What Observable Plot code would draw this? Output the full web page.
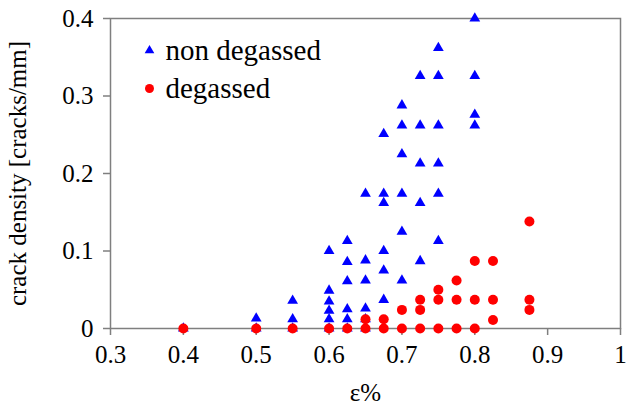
<!DOCTYPE html>
<html>
<head>
<meta charset="utf-8">
<script src="https://cdn.jsdelivr.net/npm/d3@7"></script>
<script src="https://cdn.jsdelivr.net/npm/@observablehq/plot@0.6"></script>
<style>
  html, body { margin: 0; padding: 0; background: #fff; }
  #chart { width: 630px; height: 408px; }
</style>
</head>
<body>
<div id="chart"></div>
<script>
// Series names
const seriesNames = ["non degassed", "degassed"];

// non degassed (blue triangles): strain ε% and crack density
const nonDegX = [
  0.4,
  0.5, 0.5,
  0.55, 0.55, 0.55,
  0.6, 0.6, 0.6, 0.6, 0.6, 0.6,
  0.625, 0.625, 0.625, 0.625, 0.625, 0.625,
  0.65, 0.65, 0.65, 0.65, 0.65, 0.65,
  0.675, 0.675, 0.675, 0.675, 0.675, 0.675,
  0.7, 0.7, 0.7, 0.7, 0.7, 0.7,
  0.725, 0.725, 0.725, 0.725, 0.725,
  0.75, 0.75, 0.75, 0.75, 0.75, 0.75,
  0.8, 0.8, 0.8, 0.8
];
const nonDegY = [
  0,
  0, 0.013,
  0, 0.012, 0.036,
  0, 0.012, 0.023, 0.035, 0.049, 0.1,
  0, 0.012, 0.025, 0.061, 0.086, 0.113,
  0, 0.012, 0.026, 0.062, 0.088, 0.174,
  0.037, 0.075, 0.1, 0.162, 0.174, 0.251,
  0.062, 0.125, 0.174, 0.225, 0.262, 0.288,
  0.087, 0.162, 0.213, 0.262, 0.326,
  0.113, 0.174, 0.213, 0.262, 0.326, 0.362,
  0.262, 0.276, 0.326, 0.4
];

// degassed (red circles)
const degX = [
  0.4, 0.5, 0.55, 0.6, 0.625,
  0.65, 0.65,
  0.675, 0.675,
  0.7, 0.7,
  0.725, 0.725, 0.725,
  0.75, 0.75, 0.75,
  0.775, 0.775, 0.775,
  0.8, 0.8, 0.8,
  0.825, 0.825, 0.825,
  0.875, 0.875, 0.875
];
const degY = [
  0, 0, 0, 0, 0,
  0, 0.012,
  0, 0.012,
  0, 0.024,
  0, 0.024, 0.037,
  0, 0.037, 0.05,
  0, 0.037, 0.062,
  0, 0.037, 0.087,
  0.011, 0.037, 0.087,
  0.024, 0.037, 0.138
];

// Axis ticks and labels
const xTicks = [0.3, 0.4, 0.5, 0.6, 0.7, 0.8, 0.9, 1];
const yTicks = [0, 0.1, 0.2, 0.3, 0.4];
const xLabel = "ε%";
const yLabel = "crack density [cracks/mm]";

const nonDeg = nonDegX.map((x, i) => ({x, y: nonDegY[i]}));
const deg = degX.map((x, i) => ({x, y: degY[i]}));
const fmt = d => String(+d.toFixed(1));

const BLUE = "#0000ff", RED = "#ff0000", AXIS = "#7f7f7f";
const SERIF = "'Times New Roman', 'Liberation Serif', serif";

const chart = Plot.plot({
  width: 630,
  height: 408,
  marginLeft: 110,
  marginRight: 10,
  marginTop: 18,
  marginBottom: 80,
  style: {fontSize: "25px", color: "#000", background: "#fff", overflow: "visible"},
  x: {domain: [0.3, 1]},
  y: {domain: [0, 0.4]},
  marks: [
    Plot.frame({stroke: AXIS, strokeWidth: 1.5}),
    Plot.axisX({ticks: xTicks, tickFormat: fmt, tickSize: 7, tickPadding: 10, stroke: AXIS, strokeWidth: 1.5,
      label: xLabel, labelAnchor: "center", labelArrow: "none", labelOffset: 72, fontSize: 25, fontFamily: SERIF}),
    Plot.axisY({ticks: yTicks, tickFormat: fmt, tickSize: 7, tickPadding: 10, stroke: AXIS, strokeWidth: 1.5,
      label: yLabel, labelAnchor: "center", labelArrow: "none", labelOffset: 102, fontSize: 25, fontFamily: SERIF}),
    Plot.dot(nonDeg, {x: "x", y: "y", symbol: "triangle", r: 4, fill: BLUE, stroke: "none"}),
    Plot.dot(deg, {x: "x", y: "y", symbol: "circle", r: 5, fill: RED, stroke: "none"}),
    // legend inside the frame
    Plot.dot([seriesNames[0]], {frameAnchor: "top-left", dx: 39, dy: 32, symbol: "triangle", r: 3.6, fill: BLUE, stroke: "none"}),
    Plot.dot([seriesNames[1]], {frameAnchor: "top-left", dx: 39, dy: 70, symbol: "circle", r: 4.5, fill: RED, stroke: "none"}),
    Plot.text([seriesNames[0]], {frameAnchor: "top-left", text: d => d, dx: 55, dy: 32, textAnchor: "start", lineAnchor: "middle", fontSize: 29, fontFamily: SERIF, fill: "#000"}),
    Plot.text([seriesNames[1]], {frameAnchor: "top-left", text: d => d, dx: 55, dy: 70, textAnchor: "start", lineAnchor: "middle", fontSize: 29, fontFamily: SERIF, fill: "#000"})
  ]
});
chart.setAttribute("font-family", SERIF);
document.getElementById("chart").appendChild(chart);
</script>
</body>
</html>
